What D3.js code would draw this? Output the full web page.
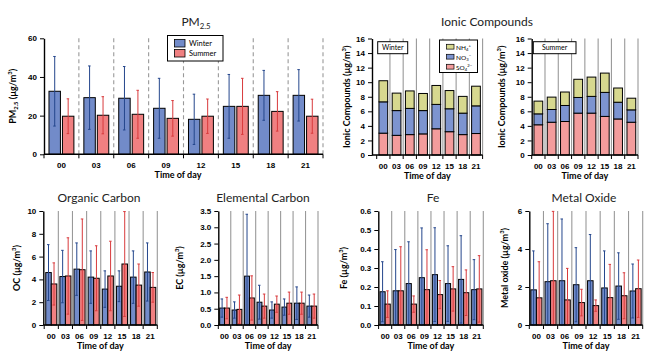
<!DOCTYPE html>
<html lang="en">
<head>
<meta charset="utf-8">
<title>Diurnal PM2.5 and components</title>
<script src="https://d3js.org/d3.v7.min.js"></script>
<style>
  body { margin: 0; background: #fff; }
  svg { font-family: Lato, "Open Sans", sans-serif; }
  .axis path, .axis line { stroke: #000; }
  .axis text { font-size: 8px; font-weight: bold; fill: #000; }
  .ttl { font-size: 12px; fill: #222; }
  .lbl { font-size: 9px; font-weight: bold; fill: #000; }
</style>
</head>
<body>
<svg width="652" height="362"></svg>
<script>
// ---- data ----
var hours = ["00", "03", "06", "09", "12", "15", "18", "21"];

// PM2.5 (ug/m3), mean and sd
var pmWinter = [32.6, 29.3, 29.0, 23.8, 18.1, 24.8, 30.5, 30.5];
var pmWinterSd = [18.0, 16.4, 16.4, 15.5, 13.0, 16.5, 12.9, 13.3];
var pmSummer = [19.7, 20.2, 20.7, 18.6, 19.7, 24.8, 22.2, 19.7];
var pmSummerSd = [9.0, 9.6, 12.4, 9.2, 8.9, 14.5, 10.2, 8.8];

// ionic compounds (ug/m3), stacked
var winterSO4 = [3.0, 2.7, 2.8, 2.9, 3.6, 3.2, 2.8, 2.95];
var winterNO3 = [4.3, 3.4, 3.6, 3.2, 3.35, 3.15, 2.95, 3.8];
var winterNH4 = [2.9, 2.4, 2.4, 2.35, 2.6, 2.5, 2.3, 2.7];
var summerSO4 = [4.15, 4.5, 4.6, 5.75, 5.75, 5.3, 4.95, 4.5];
var summerNO3 = [1.5, 1.75, 2.2, 2.15, 2.3, 3.3, 2.3, 1.7];
var summerNH4 = [1.75, 1.7, 1.85, 2.5, 2.65, 2.65, 1.95, 1.6];

// organic carbon
var ocWinter = [4.6, 4.25, 4.9, 4.2, 3.15, 3.4, 4.2, 4.65];
var ocWinterSd = [2.45, 2.3, 2.3, 2.3, 1.6, 1.35, 2.3, 2.55];
var ocSummer = [3.6, 4.3, 4.85, 4.1, 4.3, 5.35, 3.5, 3.3];
var ocSummerSd = [1.85, 3.35, 4.45, 2.85, 3.05, 4.6, 1.85, 1.3];

// elemental carbon
var ecWinter = [0.52, 0.46, 1.5, 0.7, 0.46, 0.55, 0.67, 0.58];
var ecWinterSd = [0.28, 0.25, 1.9, 0.52, 0.25, 0.25, 0.5, 0.34];
var ecSummer = [0.52, 0.48, 0.83, 0.58, 0.64, 0.67, 0.67, 0.58];
var ecSummerSd = [0.33, 0.44, 0.68, 0.37, 0.25, 0.34, 0.34, 0.37];

// Fe
var feWinter = [0.175, 0.18, 0.218, 0.249, 0.265, 0.218, 0.24, 0.186];
var feWinterSd = [0.158, 0.217, 0.22, 0.262, 0.247, 0.199, 0.23, 0.158];
var feSummer = [0.11, 0.18, 0.11, 0.186, 0.16, 0.19, 0.17, 0.19];
var feSummerSd = [0.07, 0.232, 0.043, 0.21, 0.074, 0.117, 0.12, 0.175];

// metal oxide
var moWinter = [1.85, 2.28, 2.33, 2.12, 2.33, 1.95, 2.05, 1.79];
var moWinterSd = [2.05, 3.05, 3.25, 1.95, 2.43, 1.95, 1.75, 1.42];
var moSummer = [1.43, 2.33, 1.32, 1.18, 1.02, 1.44, 1.54, 1.91];
var moSummerSd = [1.9, 3.65, 1.66, 0.7, 0.3, 1.75, 1.21, 1.51];

var cWinter = "#728bc9", cSummer = "#f08081";
var eWinter = "#24468c", eSummer = "#d83a3c";
var cSO4 = "#f39c9c", cNO3 = "#7d94d0", cNH4 = "#d7d88f";

var svg = d3.select("svg");

// text with sub/superscript parts
function rich(text, parts, size) {
  var cur = 0;
  parts.forEach(function (p) {
    var shift = p[1] === "sub" ? size * 0.22 : p[1] === "sup" ? -size * 0.4 : 0;
    text.append("tspan")
      .attr("dy", shift - cur)
      .attr("font-size", p[1] ? size * 0.65 : size)
      .text(p[0]);
    cur = shift;
  });
}

function ugm3(name) {
  return [[name, 0]].concat([[" (\u00b5g/m", 0], ["3", "sup"], [")", 0]]);
}

// shared frame: separators, axes, labels
function frame(o) {
  var x = d3.scaleBand().domain(hours).range([o.bandStart, o.x1]).padding(0);
  var y = d3.scaleLinear().domain([0, o.max]).range([o.yBottom, o.yTop]);
  var g = svg.append("g");

  g.selectAll(".sep").data(hours).enter().append("line")
    .attr("x1", function (d) { return x(d) + x.bandwidth(); })
    .attr("x2", function (d) { return x(d) + x.bandwidth(); })
    .attr("y1", o.yTop).attr("y2", o.yBottom)
    .attr("stroke", "#999").attr("stroke-width", 1.1)
    .attr("stroke-dasharray", o.dashed ? "4,3" : null);

  o.g = g; o.x = x; o.y = y;
  return o;
}

function axes(o) {
  var g = o.g, x = o.x, y = o.y;
  var ya = g.append("g").attr("class", "axis")
    .attr("transform", "translate(" + o.axisX + ",0)")
    .call(d3.axisLeft(y).tickValues(o.ticks).tickSize(4).tickSizeOuter(0).tickPadding(3).tickFormat(o.fmt));
  ya.select(".domain").attr("stroke-width", 1.4);

  var xa = g.append("g").attr("class", "axis")
    .attr("transform", "translate(0," + o.yBottom + ")")
    .call(d3.axisBottom(x).tickSize(0).tickPadding(8));
  xa.select(".domain").remove();
  g.append("line").attr("x1", o.axisX).attr("x2", o.x1)
    .attr("y1", o.yBottom).attr("y2", o.yBottom)
    .attr("stroke", "#000").attr("stroke-width", 1.4);
  var edges = [o.bandStart].concat(hours.map(function (d) { return x(d) + x.bandwidth(); }));
  g.selectAll(".xt").data(edges).enter().append("line")
    .attr("x1", function (d) { return d; }).attr("x2", function (d) { return d; })
    .attr("y1", o.yBottom).attr("y2", o.yBottom + 4)
    .attr("stroke", "#000");

  g.append("text").attr("class", "lbl").attr("text-anchor", "middle")
    .attr("x", o.xlabelX || (o.axisX + o.x1) / 2).attr("y", o.yBottom + 23.5)
    .text("Time of day");

  var yl = g.append("text").attr("class", "lbl").attr("text-anchor", "middle")
    .attr("transform", "translate(" + o.ylabelX + "," + (o.yTop + o.yBottom) / 2 + ") rotate(-90)");
  rich(yl, o.ylabel, 9);

  if (o.title) {
    var t = g.append("text").attr("class", "ttl").attr("text-anchor", "middle")
      .attr("x", o.titleX).attr("y", o.titleY);
    rich(t, o.title, 12);
  }
}

function grouped(o) {
  frame(o);
  var g = o.g, x = o.x, y = o.y;
  var xi = d3.scaleBand().domain(["w", "s"]).range([0, x.bandwidth()])
    .paddingInner(o.pi).paddingOuter(o.po);
  var rows = hours.map(function (h, i) {
    return [
      { h: h, k: "w", v: o.w[i], sd: o.wsd[i], fill: cWinter, err: eWinter },
      { h: h, k: "s", v: o.s[i], sd: o.ssd[i], fill: cSummer, err: eSummer }
    ];
  });
  var items = d3.merge(rows);

  g.selectAll(".bar").data(items).enter().append("rect")
    .attr("x", function (d) { return x(d.h) + xi(d.k); })
    .attr("width", xi.bandwidth())
    .attr("y", function (d) { return y(d.v); })
    .attr("height", function (d) { return y(0) - y(d.v); })
    .attr("fill", function (d) { return d.fill; })
    .attr("stroke", "#000").attr("stroke-width", 1);

  var cx = function (d) { return x(d.h) + xi(d.k) + xi.bandwidth() / 2; };
  var hi = function (d) { return y(Math.min(o.max, d.v + d.sd)); };
  var lo = function (d) { return y(Math.max(0, d.v - d.sd)); };
  var eb = g.selectAll(".err").data(items).enter().append("g")
    .attr("stroke", function (d) { return d.err; }).attr("stroke-width", 1);
  eb.append("line").attr("x1", cx).attr("x2", cx).attr("y1", hi).attr("y2", lo);
  eb.append("line").attr("x1", function (d) { return cx(d) - 1.5; }).attr("x2", function (d) { return cx(d) + 1; })
    .attr("y1", hi).attr("y2", hi);
  eb.append("line").attr("x1", function (d) { return cx(d) - 1.5; }).attr("x2", function (d) { return cx(d) + 1; })
    .attr("y1", lo).attr("y2", lo);

  axes(o);
  return o;
}

function stacked(o) {
  frame(o);
  var g = o.g, x = o.x, y = o.y;
  var table = hours.map(function (h, i) {
    return { h: h, so4: o.so4[i], no3: o.no3[i], nh4: o.nh4[i] };
  });
  var series = d3.stack().keys(["so4", "no3", "nh4"])(table);
  var color = { so4: cSO4, no3: cNO3, nh4: cNH4 };
  var bw = x.bandwidth() * 0.66;

  g.selectAll(".ser").data(series).enter().append("g")
    .attr("fill", function (s) { return color[s.key]; })
    .selectAll("rect").data(function (s) { return s; }).enter().append("rect")
    .attr("x", function (d) { return x(d.data.h) + (x.bandwidth() - bw) / 2; })
    .attr("width", bw)
    .attr("y", function (d) { return y(d[1]); })
    .attr("height", function (d) { return y(d[0]) - y(d[1]); })
    .attr("stroke", "#000").attr("stroke-width", 1);

  axes(o);

  // season tag
  var tg = g.append("g");
  tg.append("rect").attr("x", o.tag[0]).attr("y", 41.7).attr("width", o.tag[1]).attr("height", 12)
    .attr("fill", "#fff").attr("stroke", "#000").attr("stroke-width", 1);
  tg.append("text").attr("x", o.tag[0] + o.tag[1] / 2).attr("y", 50.3)
    .attr("text-anchor", "middle").attr("font-size", 7).text(o.tagText);
  return o;
}

// ---- panels ----
var pm = grouped({
  w: pmWinter, wsd: pmWinterSd, s: pmSummer, ssd: pmSummerSd,
  axisX: 44, bandStart: 44, x1: 323, yTop: 38.3, yBottom: 154.3,
  max: 60, ticks: [0, 20, 40, 60], fmt: d3.format("d"), dashed: true,
  pi: 0.15, po: 0.37, xlabelX: 178, ylabelX: 16,
  ylabel: [["PM", 0], ["2.5", "sub"], [" (\u00b5g/m", 0], ["3", "sup"], [")", 0]],
  title: [["PM", 0], ["2.5", "sub"]], titleX: 196, titleY: 26
});

// PM legend
var lg = svg.append("g");
lg.append("rect").attr("x", 167.5).attr("y", 35.5).attr("width", 55.5).attr("height", 25.5)
  .attr("fill", "#fff").attr("stroke", "#000").attr("stroke-width", 1);
[["Winter", cWinter], ["Summer", cSummer]].forEach(function (e, i) {
  lg.append("rect").attr("x", 174.5).attr("y", 39.5 + i * 10).attr("width", 10.5).attr("height", 7.5)
    .attr("fill", e[1]).attr("stroke", "#000").attr("stroke-width", 0.8);
  lg.append("text").attr("x", 189).attr("y", 46 + i * 10).attr("font-size", 7.5).text(e[0]);
});

var ionTicks = d3.range(0, 17, 2);
stacked({
  so4: winterSO4, no3: winterNO3, nh4: winterNH4,
  axisX: 372, bandStart: 376.7, x1: 482.6, yTop: 38.5, yBottom: 155,
  max: 16, ticks: ionTicks, fmt: d3.format("d"), ylabelX: 350,
  ylabel: ugm3("Ionic Compounds"), tag: [377.7, 30], tagText: "Winter"
});
stacked({
  so4: summerSO4, no3: summerNO3, nh4: summerNH4,
  axisX: 531.7, bandStart: 531.7, x1: 638, yTop: 38.5, yBottom: 155,
  max: 16, ticks: ionTicks, fmt: d3.format("d"), ylabelX: 505,
  ylabel: ugm3("Ionic Compounds"), tag: [533.3, 42.7], tagText: "Summer"
});
svg.append("text").attr("class", "ttl").attr("text-anchor", "middle")
  .attr("x", 487).attr("y", 26).text("Ionic Compounds");

// ionic legend
var il = svg.append("g");
il.append("rect").attr("x", 439.5).attr("y", 40).attr("width", 38).attr("height", 32.5)
  .attr("fill", "#fff").attr("stroke", "#000").attr("stroke-width", 1);
[
  [[["NH", 0], ["4", "sub"], ["+", "sup"]], cNH4],
  [[["NO", 0], ["3", "sub"], ["\u2212", "sup"]], cNO3],
  [[["SO", 0], ["4", "sub"], ["2\u2212", "sup"]], cSO4]
].forEach(function (e, i) {
  il.append("rect").attr("x", 446.5).attr("y", 44.3 + i * 10).attr("width", 7.5).attr("height", 4.8)
    .attr("fill", e[1]).attr("stroke", "#000").attr("stroke-width", 0.7);
  var t = il.append("text").attr("x", 456).attr("y", 49.5 + i * 10);
  rich(t, e[0], 6.5);
});

var bottom = { yTop: 211, yBottom: 325, pi: 0, po: 0.28, titleY: 202 };
function withBottom(o) { return Object.assign({}, bottom, o); }

grouped(withBottom({
  w: ocWinter, wsd: ocWinterSd, s: ocSummer, ssd: ocSummerSd,
  axisX: 43.3, bandStart: 44.2, x1: 157.3, max: 10, ticks: [0, 2, 4, 6, 8, 10],
  fmt: d3.format("d"), ylabelX: 20, ylabel: ugm3("OC"),
  title: [["Organic Carbon", 0]], titleX: 99
}));
grouped(withBottom({
  w: ecWinter, wsd: ecWinterSd, s: ecSummer, ssd: ecSummerSd,
  axisX: 218.3, bandStart: 218.3, x1: 318, max: 3.5, ticks: d3.range(0, 3.6, 0.5),
  fmt: d3.format(".1f"), ylabelX: 183, ylabel: ugm3("EC"),
  title: [["Elemental Carbon", 0]], titleX: 263
}));
grouped(withBottom({
  w: feWinter, wsd: feWinterSd, s: feSummer, ssd: feSummerSd,
  axisX: 378.3, bandStart: 378.6, x1: 483.3, max: 0.6, ticks: d3.range(0, 0.65, 0.1),
  fmt: d3.format(".1f"), ylabelX: 347, ylabel: ugm3("Fe"),
  title: [["Fe", 0]], titleX: 433
}));
grouped(withBottom({
  w: moWinter, wsd: moWinterSd, s: moSummer, ssd: moSummerSd,
  axisX: 529.3, bandStart: 529.3, x1: 642.7, max: 6, ticks: [0, 2, 4, 6],
  fmt: d3.format("d"), ylabelX: 508, ylabel: ugm3("Metal oxide"),
  title: [["Metal Oxide", 0]], titleX: 584
}));
</script>
</body>
</html>
